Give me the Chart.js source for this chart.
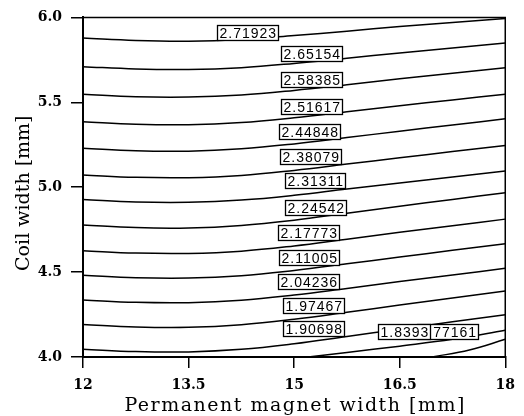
<!DOCTYPE html>
<html>
<head>
<meta charset="utf-8">
<script src="https://cdn.jsdelivr.net/npm/chart.js@4.4.0/dist/chart.umd.min.js"></script>
<style>
  html, body { margin: 0; padding: 0; background: #fff; }
  #grafico { display: block; }
</style>
</head>
<body>
<canvas id="grafico" width="524" height="416"></canvas>
<script>
// Ticks dos eixos
const xTicks = [12, 13.5, 15, 16.5, 18];
const yTicks = [4.0, 4.5, 5.0, 5.5, 6.0];
const xTitulo = 'Permanent magnet width [mm]';
const yTitulo = 'Coil width [mm]';

// Níveis das curvas (de cima para baixo)
const levels = [2.71923, 2.65154, 2.58385, 2.51617, 2.44848, 2.38079, 2.31311, 2.24542,
                2.17773, 2.11005, 2.04236, 1.97467, 1.90698, 1.8393, 1.77161];

// Pontos: largura do ímã (x) -> largura da bobina (y)
const xFull = [12, 12.75, 13.5, 14.25, 15, 15.75, 16.5, 17.25, 18];
const y271923 = [5.878, 5.864, 5.860, 5.870, 5.893, 5.919, 5.946, 5.970, 5.994];
const y265154 = [5.710, 5.696, 5.693, 5.704, 5.729, 5.760, 5.791, 5.820, 5.849];
const y258385 = [5.548, 5.533, 5.531, 5.543, 5.570, 5.604, 5.639, 5.671, 5.704];
const y251617 = [5.386, 5.371, 5.368, 5.381, 5.409, 5.444, 5.480, 5.514, 5.548];
const y244848 = [5.229, 5.214, 5.212, 5.226, 5.255, 5.292, 5.330, 5.366, 5.403];
const y238079 = [5.072, 5.058, 5.056, 5.069, 5.099, 5.136, 5.173, 5.210, 5.246];
const y231311 = [4.928, 4.913, 4.911, 4.924, 4.952, 4.989, 5.025, 5.060, 5.096];
const y224542 = [4.777, 4.762, 4.760, 4.775, 4.806, 4.847, 4.888, 4.928, 4.968];
const y217773 = [4.626, 4.612, 4.610, 4.623, 4.654, 4.694, 4.734, 4.773, 4.812];
const y211005 = [4.481, 4.467, 4.465, 4.479, 4.510, 4.549, 4.589, 4.628, 4.667];
const y204236 = [4.336, 4.322, 4.320, 4.334, 4.365, 4.404, 4.444, 4.483, 4.522];
const y197467 = [4.191, 4.177, 4.175, 4.190, 4.222, 4.263, 4.306, 4.347, 4.388];
const y190698 = [4.046, 4.032, 4.030, 4.045, 4.078, 4.121, 4.164, 4.207, 4.249];
const x18393 = [15.2, 15.75, 16.5, 17.25, 18];
const y18393 = [4.0, 4.027, 4.064, 4.104, 4.157];
const x177161 = [16.96, 17.49, 18];
const y177161 = [4.0, 4.041, 4.104];

// Onde ficam as etiquetas (em unidades dos eixos)
const labelX = [14.34, 15.24, 15.24, 15.24, 15.22, 15.23, 15.29, 15.30, 15.21, 15.21, 15.20, 15.28, 15.28, 16.56, 17.18];
const labelY = [5.910, 5.786, 5.635, 5.475, 5.328, 5.183, 5.038, 4.881, 4.733, 4.588, 4.443, 4.304, 4.165, 4.148, 4.148];

const curvas = [
    [xFull, y271923], [xFull, y265154], [xFull, y258385], [xFull, y251617], [xFull, y244848],
    [xFull, y238079], [xFull, y231311], [xFull, y224542], [xFull, y217773], [xFull, y211005],
    [xFull, y204236], [xFull, y197467], [xFull, y190698], [x18393, y18393], [x177161, y177161]
];

Chart.defaults.font.family = '"DejaVu Serif", serif';
Chart.defaults.color = '#000';

const contourLabels = {
    id: 'contourLabels',
    afterDatasetsDraw(chart) {
        const { ctx, scales: { x, y } } = chart;
        ctx.save();
        ctx.font = '14px "Liberation Sans", Arial, sans-serif';
        ctx.letterSpacing = '1px';
        ctx.textBaseline = 'middle';
        ctx.textAlign = 'left';
        // de baixo para cima, assim 1.8393 fica por cima de 1.77161
        for (let i = levels.length - 1; i >= 0; i--) {
            const txt = String(levels[i]);
            const w = ctx.measureText(txt).width;
            const cx = x.getPixelForValue(labelX[i]);
            const cy = y.getPixelForValue(labelY[i]);
            const bw = Math.round(w + 3), bh = 15;
            const bx = Math.round(cx - bw / 2) + 0.5, by = Math.round(cy - bh / 2) + 0.5;
            ctx.fillStyle = '#fff';
            ctx.fillRect(bx, by, bw, bh);
            ctx.strokeStyle = '#000';
            ctx.lineWidth = 1.3;
            ctx.strokeRect(bx, by, bw, bh);
            ctx.fillStyle = '#000';
            ctx.fillText(txt, bx + 2, by + bh / 2 + 1);
        }
        ctx.restore();
    }
};

const moldura = {
    id: 'moldura',
    afterDraw(chart) {
        const { ctx, chartArea: a } = chart;
        ctx.save();
        ctx.strokeStyle = '#000';
        ctx.lineWidth = 1.5;
        ctx.beginPath();
        ctx.moveTo(a.left, a.top);
        ctx.lineTo(a.right, a.top);
        ctx.lineTo(a.right, a.bottom);
        ctx.stroke();

        // títulos dos eixos (com espaçamento entre letras)
        ctx.fillStyle = '#000';
        ctx.textAlign = 'center';
        ctx.textBaseline = 'alphabetic';
        ctx.font = '19px "DejaVu Serif", serif';
        ctx.letterSpacing = '1.5px';
        ctx.fillText(xTitulo, (a.left + a.right) / 2 + 1, chart.height - 5);
        ctx.letterSpacing = '0px';
        ctx.translate(29, (a.top + a.bottom) / 2 + 6);
        ctx.rotate(-Math.PI / 2);
        ctx.fillText(yTitulo, 0, 0);
        ctx.restore();
    }
};

new Chart(document.getElementById('grafico'), {
    type: 'line',
    data: {
        datasets: curvas.map(([xs, ys], k) => ({
            label: String(levels[k]),
            data: xs.map((v, i) => ({ x: v, y: ys[i] })),
            borderColor: '#000',
            borderWidth: 1.5,
            pointRadius: 0,
            fill: false,
            tension: 0.4
        }))
    },
    options: {
        responsive: false,
        animation: false,
        layout: { padding: { top: 12, right: 6, left: 0, bottom: 0 } },
        plugins: { legend: { display: false }, tooltip: { enabled: false } },
        scales: {
            x: {
                type: 'linear', min: 12, max: 18,
                afterBuildTicks: s => { s.ticks = xTicks.map(v => ({ value: v })); },
                afterFit: s => { s.height = 59; },
                ticks: { font: { size: 14, weight: 'bold' }, padding: 9, maxRotation: 0,
                         callback: v => String(v) },
                grid: { drawOnChartArea: false, drawTicks: true, tickLength: 11, color: '#000', lineWidth: 1.5 },
                border: { display: true, color: '#000', width: 2 },
                title: { display: false }
            },
            y: {
                type: 'linear', min: 4, max: 6,
                afterBuildTicks: s => { s.ticks = yTicks.map(v => ({ value: v })); },
                afterFit: s => { s.width = 83; },
                ticks: { font: { size: 14, weight: 'bold' }, padding: 9,
                         callback: v => v.toFixed(1) },
                grid: { drawOnChartArea: false, drawTicks: true, tickLength: 12, color: '#000', lineWidth: 1.5 },
                border: { display: true, color: '#000', width: 2 },
                title: { display: false }
            }
        }
    },
    plugins: [contourLabels, moldura]
});
</script>
</body>
</html>
